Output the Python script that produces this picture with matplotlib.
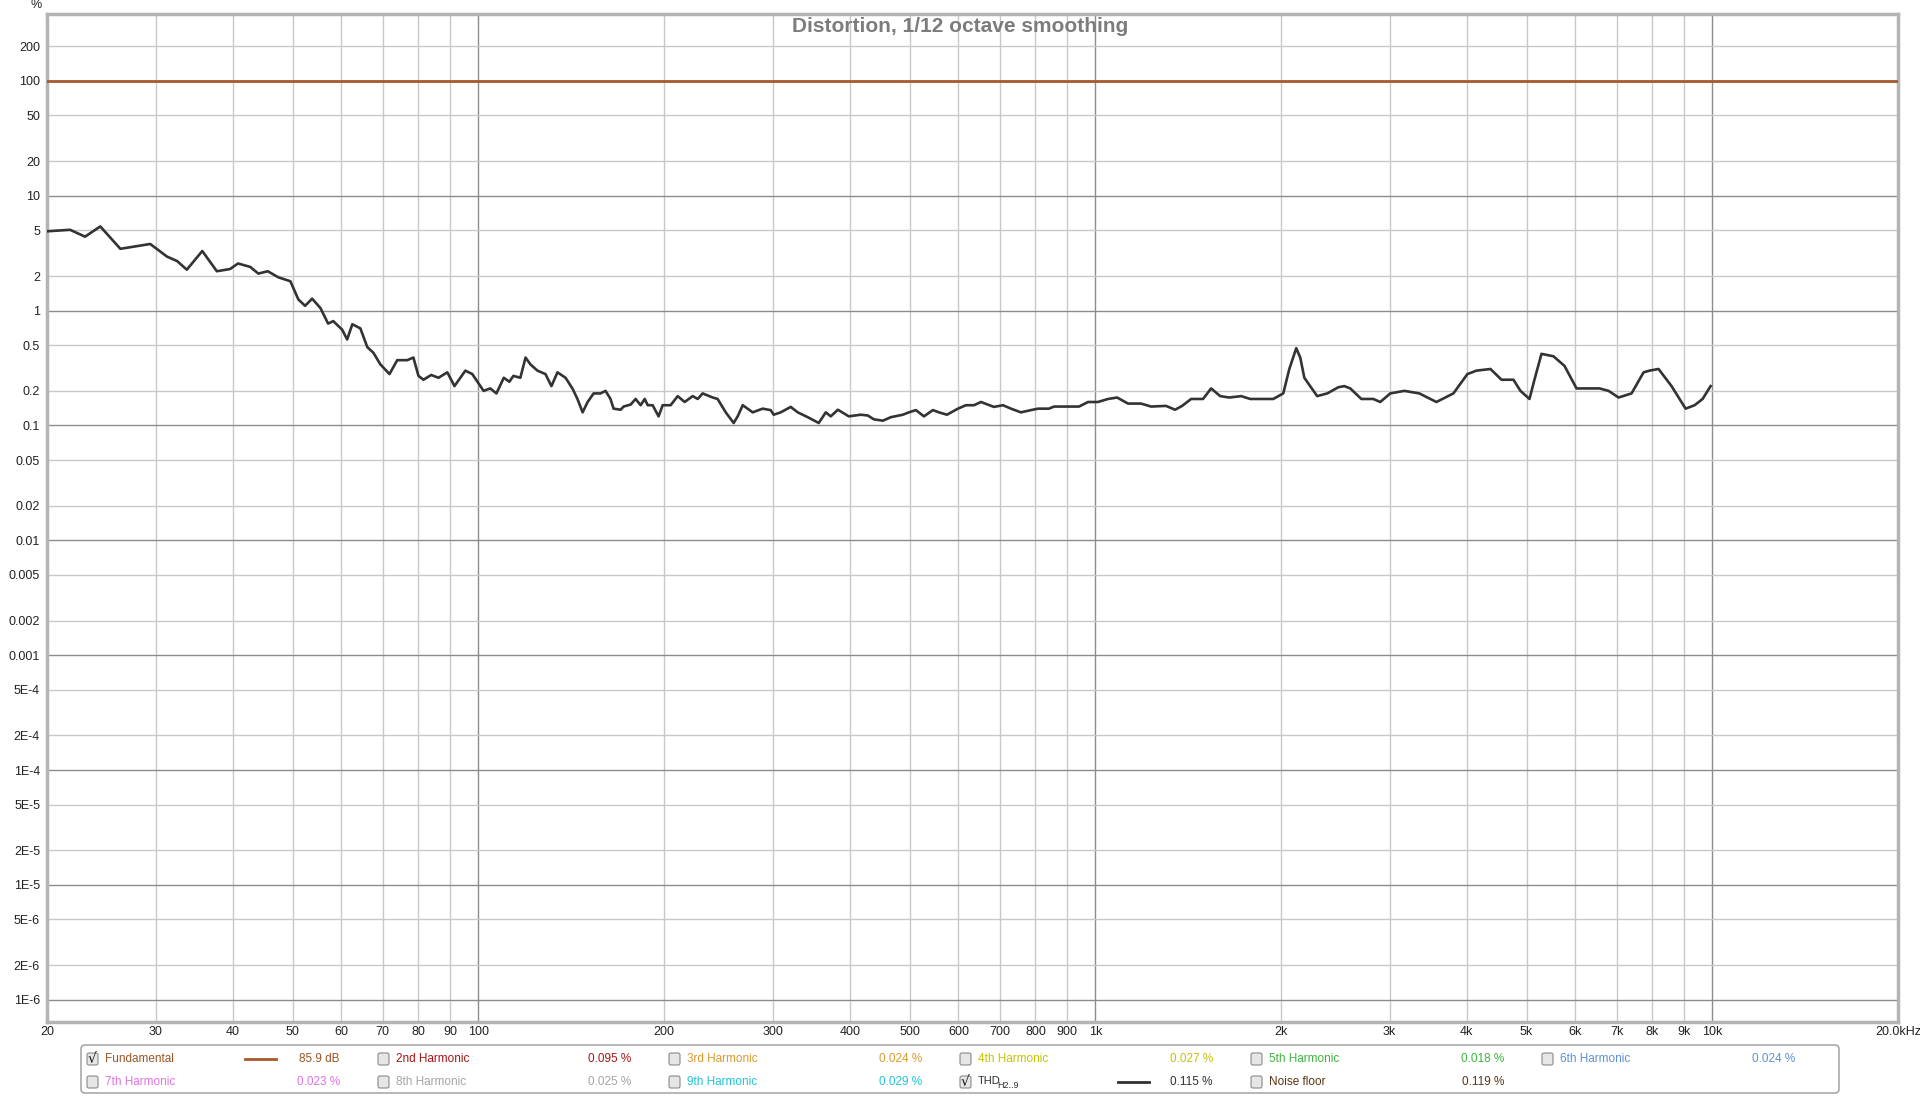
import matplotlib
matplotlib.use("Agg")
import matplotlib.pyplot as plt
from matplotlib.patches import FancyBboxPatch
from matplotlib.ticker import FixedLocator, FixedFormatter, NullLocator

plt.rcParams['font.family'] = ['Liberation Sans Narrow', 'Liberation Sans', 'DejaVu Sans']

# THD (H2..9) curve: frequency in Hz, distortion in %
thd_freq = [20, 21.8, 23.05, 24.4, 26.3, 29.4, 31.3, 32.5, 33.7, 35.7, 37.7, 39.6, 40.8, 42.7,
            44.0, 45.6, 47.4, 49.6, 51.1, 52.4, 53.8, 55.5, 57.1, 58.2, 60.2, 61.3, 62.5, 64.4,
            66.1, 67.6, 69.4, 71.8, 73.9, 76.7, 78.5, 80.0, 81.5, 83.9, 86.2, 89.1, 91.5, 95.3,
            97.8, 102, 104.6, 107, 110, 112.3, 114, 117, 119.3, 121.5, 124.7, 128.5, 131.4,
            134.4, 138.5, 142.1, 144.8, 147.6, 150.4, 153.8, 157.8, 160.8, 163.8, 165.7, 170.1,
            172, 176.6, 179.9, 183.3, 186.1, 188.2, 191.7, 196, 199, 205, 210.5, 216, 222.6,
            226.8, 231, 239.9, 244.3, 251.8, 259.4, 263.3, 268.3, 278.5, 289, 297.8, 301.2,
            309.2, 320.9, 329.4, 342, 356.3, 365.8, 372.7, 382.6, 398.6, 416.9, 428, 437.7,
            452.7, 466.4, 487.7, 498.8, 512, 527.6, 545.6, 558, 574.9, 599, 617.2, 636, 652.8,
            685, 708.6, 730, 757.8, 786.8, 807.6, 841.4, 857.3, 903.3, 941.3, 973.4, 1010,
            1049, 1085, 1130, 1186, 1232, 1302, 1347, 1383, 1430, 1495, 1541, 1594, 1648, 1724,
            1783, 1865, 1943, 2017, 2063, 2117, 2149, 2182, 2289, 2377, 2477, 2533, 2590, 2699,
            2822, 2897, 3007, 3169, 3352, 3572, 3806, 4010, 4148, 4370, 4554, 4762, 4888, 5055,
            5150, 5287, 5529, 5761, 6026, 6232, 6566, 6791, 7049, 7399, 7739, 7914, 8184, 8590,
            9053, 9363, 9646, 9938]
thd_pct = [4.9, 5.05, 4.4, 5.4, 3.45, 3.8, 2.95, 2.7, 2.27, 3.3, 2.2, 2.3, 2.57, 2.4,
           2.1, 2.2, 1.95, 1.8, 1.25, 1.1, 1.27, 1.05, 0.77, 0.81, 0.68, 0.56, 0.76, 0.70,
           0.48, 0.43, 0.34, 0.28, 0.37, 0.37, 0.39, 0.27, 0.25, 0.275, 0.26, 0.29, 0.22, 0.30,
           0.28, 0.20, 0.21, 0.19, 0.26, 0.24, 0.27, 0.26, 0.39, 0.34, 0.30, 0.28, 0.22,
           0.29, 0.26, 0.21, 0.17, 0.13, 0.16, 0.19, 0.19, 0.20, 0.17, 0.14, 0.137,
           0.146, 0.152, 0.17, 0.15, 0.17, 0.15, 0.15, 0.12, 0.15, 0.15, 0.18, 0.16, 0.18,
           0.17, 0.19, 0.175, 0.17, 0.13, 0.105, 0.12, 0.15, 0.13, 0.14, 0.136, 0.124,
           0.13, 0.145, 0.13, 0.118, 0.105, 0.13, 0.12, 0.137, 0.12, 0.124, 0.122, 0.113,
           0.11, 0.118, 0.124, 0.13, 0.136, 0.12, 0.136, 0.13, 0.124, 0.14, 0.15, 0.15, 0.16,
           0.145, 0.15, 0.14, 0.13, 0.136, 0.14, 0.14, 0.146, 0.146, 0.146, 0.16, 0.16,
           0.17, 0.175, 0.155, 0.155, 0.146, 0.148, 0.137, 0.148, 0.17, 0.17, 0.21, 0.18, 0.175, 0.18,
           0.17, 0.17, 0.17, 0.19, 0.31, 0.47, 0.39, 0.26, 0.18, 0.19, 0.215, 0.22, 0.21, 0.17,
           0.17, 0.16, 0.19, 0.20, 0.19, 0.16, 0.19, 0.28, 0.30, 0.31, 0.25, 0.25, 0.20, 0.17,
           0.25, 0.42, 0.40, 0.33, 0.21, 0.21, 0.21, 0.20, 0.175, 0.19, 0.29, 0.30, 0.31, 0.22,
           0.14, 0.15, 0.17, 0.22]

# Fundamental is the 100 % reference
fund_freq = [20, 20000]
fund_pct = [100, 100]

x_ticks = [20, 30, 40, 50, 60, 70, 80, 90, 100, 200, 300, 400, 500, 600, 700, 800, 900,
           1000, 2000, 3000, 4000, 5000, 6000, 7000, 8000, 9000, 10000, 20000]
x_labels = ["20", "30", "40", "50", "60", "70", "80", "90", "100", "200", "300", "400", "500",
            "600", "700", "800", "900", "1k", "2k", "3k", "4k", "5k", "6k", "7k", "8k", "9k",
            "10k", "20.0kHz"]
y_ticks = [200, 100, 50, 20, 10, 5, 2, 1, 0.5, 0.2, 0.1, 0.05, 0.02, 0.01, 0.005, 0.002, 0.001,
           5e-4, 2e-4, 1e-4, 5e-5, 2e-5, 1e-5, 5e-6, 2e-6, 1e-6]
y_labels = ["200", "100", "50", "20", "10", "5", "2", "1", "0.5", "0.2", "0.1", "0.05", "0.02",
            "0.01", "0.005", "0.002", "0.001", "5E-4", "2E-4", "1E-4", "5E-5", "2E-5", "1E-5",
            "5E-6", "2E-6", "1E-6"]

legend_names = ["Fundamental", "2nd Harmonic", "3rd Harmonic", "4th Harmonic", "5th Harmonic",
                "6th Harmonic", "7th Harmonic", "8th Harmonic", "9th Harmonic", "THD", "Noise floor"]
legend_values = ["85.9 dB", "0.095 %", "0.024 %", "0.027 %", "0.018 %", "0.024 %",
                 "0.023 %", "0.025 %", "0.029 %", "0.115 %", "0.119 %"]
legend_colors = ["#9a5424", "#a81414", "#dc9a2e", "#c4c400", "#3cb43c", "#5f8fd4",
                 "#e272e2", "#a4a4a4", "#20c4d6", "#303030", "#5a3414"]
legend_checked = [True, False, False, False, False, False, False, False, False, True, False]

W, H = 1920, 1096
fig = plt.figure(figsize=(W / 100, H / 100), dpi=100)
ax = fig.add_axes([47 / W, 1 - 1022 / H, (1898 - 47) / W, (1022 - 14) / H])
ax.set_xscale("log")
ax.set_yscale("log")
ax.set_xlim(20, 20000)
ax.set_ylim(6.4e-7, 382)

# grid: decades darker, rest light; no vertical grid above 10k
for f in x_ticks[1:-1]:
    major = f in (100, 1000, 10000)
    ax.axvline(f, color="#8c8c8c" if major else "#c8c8c8", lw=1.0, zorder=1)
for v in y_ticks:
    major = abs(round(__import__("math").log10(v)) - __import__("math").log10(v)) < 1e-9
    ax.axhline(v, color="#8c8c8c" if major else "#c8c8c8", lw=1.0, zorder=1)

ax.plot(fund_freq, fund_pct, color="#a8582a", lw=2.0, zorder=3)
ax.plot(thd_freq, thd_pct, color="#333333", lw=1.9, zorder=4, solid_joinstyle="round")

ax.xaxis.set_major_locator(FixedLocator(x_ticks))
ax.xaxis.set_major_formatter(FixedFormatter(x_labels))
ax.xaxis.set_minor_locator(NullLocator())
ax.yaxis.set_major_locator(FixedLocator(y_ticks))
ax.yaxis.set_major_formatter(FixedFormatter(y_labels))
ax.yaxis.set_minor_locator(NullLocator())
ax.tick_params(axis="both", length=0, labelsize=9, colors="#222222")
ax.tick_params(axis="x", pad=3)
ax.tick_params(axis="y", pad=5)
for s in ax.spines.values():
    s.set_color("#b4b4b4")
    s.set_linewidth(2.5)

fig.text(960 / W, 1 - 26 / H, "Distortion, 1/12 octave smoothing", ha="center", va="center",
         fontsize=15, fontweight="bold", color="#7c7c7c", family=["Liberation Sans", "DejaVu Sans"])
fig.text(36 / W, 1 - 5 / H, "%", ha="center", va="center", fontsize=9, color="#222222")

# legend panel, in pixel units
lax = fig.add_axes([80 / W, 1 - 1094 / H, 1760 / W, 50 / H])
lax.set_xlim(0, 1760)
lax.set_ylim(50, 0)
lax.axis("off")
lax.add_patch(FancyBboxPatch((1, 1), 1758, 48, boxstyle="round,pad=0,rounding_size=4",
                             fc="white", ec="#9a9a9a", lw=1.0))
col_w = 291
for i, (name, val, col, chk) in enumerate(zip(legend_names, legend_values, legend_colors,
                                              legend_checked)):
    row, c = (0, i) if i < 6 else (1, i - 6)
    y = 15 if row == 0 else 38
    x0 = c * col_w
    lax.add_patch(FancyBboxPatch((x0 + 7, y - 6), 11, 12, boxstyle="round,pad=0,rounding_size=2",
                                 fc="#e6e6e6", ec="#8a8a8a", lw=0.8))
    if chk:
        lax.text(x0 + 12.5, y, "√", ha="center", va="center", fontsize=10, color="#111111",
                 family="DejaVu Sans")
    if name == "THD":
        lax.text(x0 + 25, y - 1, "THD", ha="left", va="center", fontsize=8, color=col)
        lax.text(x0 + 44, y + 4, "H2..9", ha="left", va="center", fontsize=6.5, color=col)
    else:
        lax.text(x0 + 25, y, name, ha="left", va="center", fontsize=8.5, color=col)
    if chk:
        lax.plot([x0 + 165, x0 + 196], [y, y], color="#a8582a" if i == 0 else col, lw=2.0)
    lax.text(x0 + 260, y, val, ha="right", va="center", fontsize=8.5, color=col)

fig.savefig("out.png", dpi=100, facecolor="white")
